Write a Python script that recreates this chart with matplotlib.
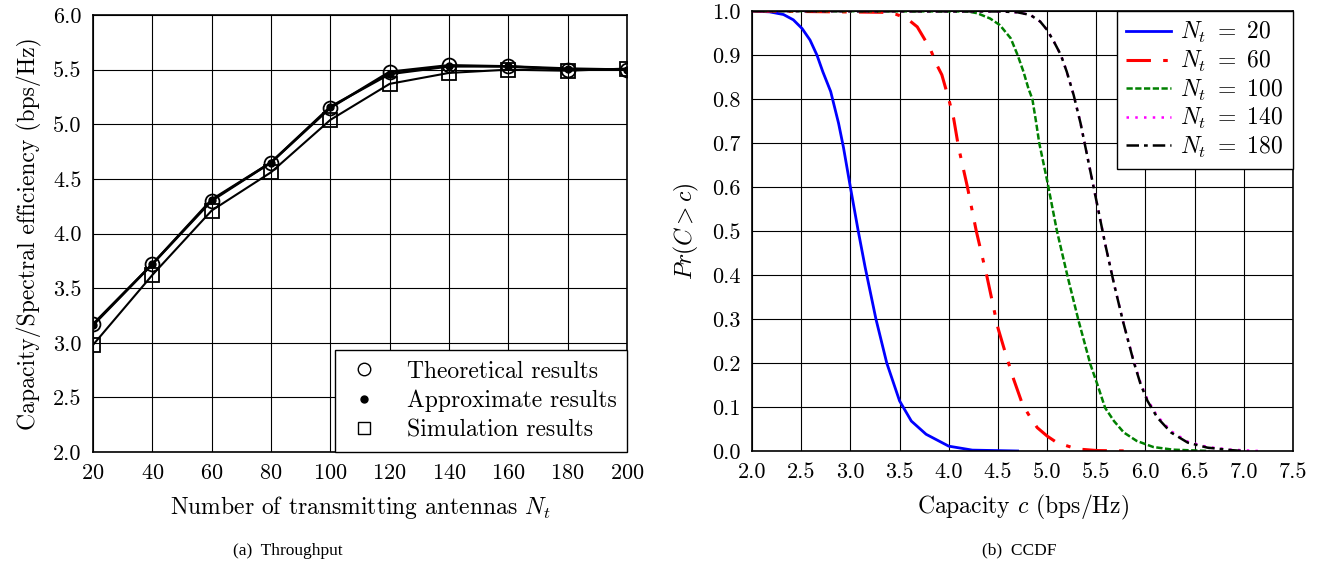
import numpy as np
import matplotlib
matplotlib.use("Agg")
import matplotlib.pyplot as plt

plt.rcParams['font.family'] = ['cmr10', 'DejaVu Serif']
plt.rcParams['mathtext.fontset'] = 'cm'
plt.rcParams['axes.unicode_minus'] = False
plt.rcParams['axes.formatter.use_mathtext'] = True

# (a) throughput
nt = [20, 40, 60, 80, 100, 120, 140, 160, 180, 200]
theo = [3.17, 3.72, 4.30, 4.65, 5.15, 5.48, 5.54, 5.53, 5.50, 5.50]
approx = [3.16, 3.72, 4.31, 4.65, 5.16, 5.46, 5.53, 5.53, 5.51, 5.50]
simu = [2.98, 3.62, 4.21, 4.56, 5.04, 5.37, 5.47, 5.50, 5.49, 5.51]

# (b) CCDF curves
c20 = [2.0, 2.18, 2.32, 2.42, 2.51, 2.59, 2.66, 2.72, 2.80, 2.88, 2.93, 3.0, 3.08, 3.15, 3.26, 3.37,
       3.50, 3.62, 3.77, 4.0, 4.24, 4.70]
p20 = [1.0, 0.998, 0.992, 0.98, 0.96, 0.934, 0.90, 0.862, 0.817, 0.745, 0.69, 0.60, 0.50, 0.418, 0.30, 0.20,
       0.114, 0.068, 0.038, 0.011, 0.002, 0.0]
c60 = [2.0, 3.34, 3.47, 3.575, 3.68, 3.81, 3.88, 3.93, 4.0, 4.05, 4.10, 4.19, 4.28, 4.39, 4.50, 4.58,
       4.66, 4.75, 4.83, 4.90, 5.0, 5.10, 5.24, 5.34, 5.51, 5.88]
p60 = [1.0, 0.997, 0.992, 0.983, 0.964, 0.915, 0.877, 0.855, 0.80, 0.756, 0.69, 0.60, 0.50, 0.395, 0.28, 0.22,
       0.163, 0.106, 0.076, 0.053, 0.034, 0.019, 0.009, 0.004, 0.001, 0.0]
c100 = [2.0, 4.19, 4.29, 4.42, 4.52, 4.63, 4.70, 4.76, 4.81, 4.85, 4.89, 4.92, 5.0, 5.10, 5.21, 5.32,
        5.44, 5.51, 5.59, 5.68, 5.78, 5.91, 6.08, 6.28, 6.65]
p100 = [1.0, 0.999, 0.995, 0.983, 0.968, 0.938, 0.90, 0.862, 0.824, 0.80, 0.745, 0.70, 0.615, 0.50, 0.395, 0.296,
        0.197, 0.152, 0.098, 0.068, 0.042, 0.023, 0.009, 0.003, 0.0]
c140 = [2.0, 4.53, 4.70, 4.83, 4.93, 5.0, 5.07, 5.14, 5.20, 5.27, 5.34, 5.50, 5.59, 5.68, 5.77, 5.88,
        5.95, 6.02, 6.12, 6.26, 6.43, 6.63, 6.87, 7.15]
p140 = [1.0, 0.999, 0.997, 0.991, 0.976, 0.957, 0.93, 0.90, 0.862, 0.809, 0.745, 0.57, 0.471, 0.38, 0.296, 0.205,
        0.155, 0.117, 0.079, 0.045, 0.021, 0.009, 0.003, 0.0]
c180 = [2.0, 4.53, 4.70, 4.83, 4.93, 5.0, 5.07, 5.14, 5.20, 5.27, 5.34, 5.50, 5.59, 5.68, 5.77, 5.88,
        5.95, 6.02, 6.12, 6.26, 6.43, 6.63, 6.87, 7.0]
p180 = [1.0, 0.999, 0.997, 0.991, 0.976, 0.957, 0.93, 0.90, 0.862, 0.809, 0.745, 0.57, 0.471, 0.38, 0.296, 0.203,
        0.152, 0.114, 0.076, 0.042, 0.019, 0.0076, 0.002, 0.0]

fig = plt.figure(figsize=(13.3, 5.67), dpi=100)
ax1 = fig.add_axes([0.0699, 0.2028, 0.4015, 0.7707])
ax2 = fig.add_axes([0.5654, 0.2046, 0.4068, 0.776])

ax1.plot(nt, simu, color='black', lw=1.5, marker='s', mfc='none', ms=10, mew=1.3, zorder=3)
ax1.plot(nt, theo, color='black', lw=1.8, marker='o', mfc='none', ms=10, mew=1.3, zorder=3)
ax1.plot(nt, approx, color='black', lw=1.8, marker='o', ms=5, zorder=4)
h1, = ax1.plot([], [], ls='none', marker='o', mfc='none', mec='black', ms=9)
h2, = ax1.plot([], [], ls='none', marker='o', color='black', ms=5)
h3, = ax1.plot([], [], ls='none', marker='s', mfc='none', mec='black', ms=9)
leg1 = ax1.legend([h1, h2, h3], ['Theoretical results', 'Approximate results', 'Simulation results'],
                  loc='lower right', fontsize=17, fancybox=False, edgecolor='black', framealpha=1,
                  borderaxespad=0, handletextpad=1.0, labelspacing=0.3, borderpad=0.45, handlelength=1.6)
leg1.get_frame().set_linewidth(1.0)
ax1.set_xlim(20, 200)
ax1.set_ylim(2.0, 6.0)
ax1.set_xticks(nt)
ax1.set_yticks(np.arange(2.0, 6.01, 0.5))
ax1.yaxis.set_major_formatter(matplotlib.ticker.FormatStrFormatter('%.1f'))
ax1.grid(True, color='black', lw=0.8)
ax1.set_xlabel('Number of transmitting antennas $N_t$', fontsize=17, labelpad=8)
ax1.set_ylabel('Capacity/Spectral efficiency (bps/Hz)', fontsize=17, labelpad=8)

ax2.plot(c20, p20, color='blue', lw=2, ls='-', label=r'$N_t\ =\ 20$')
ax2.plot(c60, p60, color='red', lw=2.2, ls=(0, (8, 4, 1.5, 4)), label=r'$N_t\ =\ 60$')
ax2.plot(c100, p100, color='green', lw=1.8, ls=(0, (2.5, 1)), label=r'$N_t\ =\ 100$')
ax2.plot(c140, p140, color='magenta', lw=1.8, ls=(0, (1, 2.5)), label=r'$N_t\ =\ 140$')
ax2.plot(c180, p180, color='black', lw=1.8, ls=(0, (5, 2, 1.5, 2)), label=r'$N_t\ =\ 180$')
leg2 = ax2.legend(loc='upper right', fontsize=17, fancybox=False, edgecolor='black', framealpha=1,
                  borderaxespad=0, handlelength=1.9, handletextpad=0.4, labelspacing=0.15, borderpad=0.4)
leg2.get_frame().set_linewidth(1.0)
ax2.set_xlim(2.0, 7.5)
ax2.set_ylim(0.0, 1.0)
ax2.set_xticks(np.arange(2.0, 7.51, 0.5))
ax2.set_yticks(np.arange(0.0, 1.01, 0.1))
ax2.xaxis.set_major_formatter(matplotlib.ticker.FormatStrFormatter('%.1f'))
ax2.yaxis.set_major_formatter(matplotlib.ticker.FormatStrFormatter('%.1f'))
ax2.grid(True, color='black', lw=0.8)
ax2.set_xlabel('Capacity $c$ (bps/Hz)', fontsize=17, labelpad=8)
ax2.set_ylabel('$Pr(C > c)$', fontsize=17, labelpad=8)

for ax in (ax1, ax2):
    ax.tick_params(labelsize=16, length=0, pad=8)
    for s in ax.spines.values():
        s.set_linewidth(1.2)

fig.text(0.2165, 0.022, '(a)  Throughput', family='Liberation Serif', fontsize=12.5, ha='center')
fig.text(0.766, 0.022, '(b)  CCDF', family='Liberation Serif', fontsize=12.5, ha='center')

fig.savefig('out.png', dpi=100)
